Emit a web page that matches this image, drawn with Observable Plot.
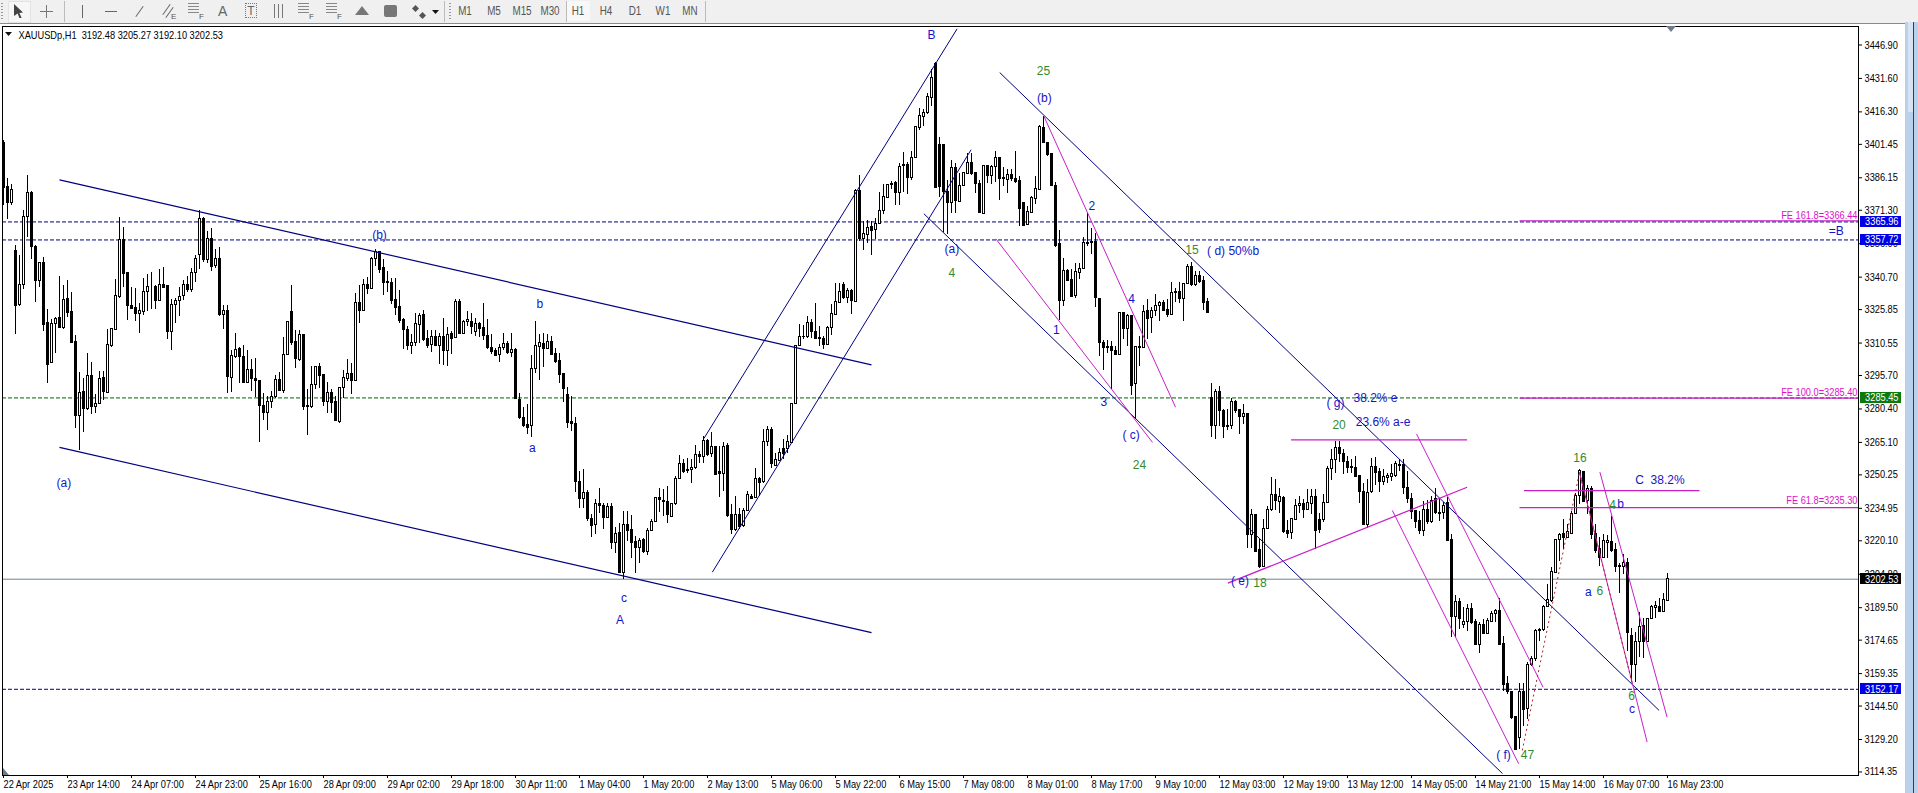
<!DOCTYPE html>
<html>
<head>
<meta charset="utf-8">
<script src="https://cdn.jsdelivr.net/npm/d3@7"></script>
<script src="https://cdn.jsdelivr.net/npm/@observablehq/plot@0.6"></script>
<style>
html,body{margin:0;padding:0;background:#fff;overflow:hidden;width:1918px;height:793px}
#toolbar{position:absolute;left:0;top:0;width:1918px;height:23px;background:#f0f0f0;border-bottom:1px solid #8a8a8a;font:11px 'Liberation Sans',sans-serif;color:#555}
#toolbar span,#toolbar i{position:absolute;display:block;font-style:normal}
#chart{position:absolute;left:0;top:24px;width:1905px;height:769px}
#side{position:absolute;left:1905px;top:22px;width:13px;height:771px;background:#b9d1ea}
#side b{position:absolute;left:8px;top:0;width:1px;height:771px;background:#3c3c3c}
#side u{position:absolute;left:3px;top:0;width:5px;height:90px;background:#d6e4f2}
.mark{position:absolute;background:#6e7b8b}
</style>
</head>
<body>
<div id="toolbar"></div>
<div id="chart"></div>
<div id="side"><u></u><b></b></div>
<div class="mark" style="left:1666px;top:26px;width:10px;height:6px;clip-path:polygon(0 0,100% 0,50% 100%)"></div>
<div class="mark" style="left:3px;top:768px;width:6px;height:7px;clip-path:polygon(0 0,100% 100%,0 100%)"></div>
<div class="mark" style="left:5px;top:32px;width:7px;height:4px;background:#111;clip-path:polygon(0 0,100% 0,50% 100%)"></div>
<script>
// ---------- hourly candles, XAUUSDp H1, bar 0 = 22 Apr 2025 22:00 ----------
const open = [
3402.2,3381.8,3374.8,3352.7,3328.0,3337.0,3368.1,3379.0,3354.4,3339.1,
3347.0,3319.6,3301.6,3319.3,3321.9,3317.6,3330.7,3324.6,3310.9,3277.4,
3288.2,3280.6,3295.4,3281.5,3282.9,3294.6,3287.9,3309.2,3316.6,3331.8,
3357.7,3342.6,3327.4,3326.5,3324.0,3324.6,3333.8,3336.1,3336.1,3330.0,
3337.0,3336.7,3315.8,3327.8,3329.7,3332.0,3337.0,3334.8,3342.5,3351.0,
3367.2,3348.6,3358.0,3346.0,3348.9,3323.5,3325.3,3294.5,3304.3,3307.8,
3304.1,3292.5,3298.2,3294.0,3293.1,3281.9,3278.4,3283.4,3285.7,3293.6,
3288.7,3305.0,3324.8,3311.0,3302.9,3314.3,3281.9,3281.1,3291.3,3299.5,
3295.9,3283.4,3287.6,3283.4,3274.4,3289.9,3294.2,3296.3,3293.4,3328.8,
3325.3,3337.0,3335.4,3349.2,3352.3,3344.8,3338.6,3337.9,3330.3,3327.0,
3321.2,3316.3,3309.4,3310.5,3319.0,3323.5,3312.3,3309.6,3313.3,3309.4,
3313.3,3306.7,3314.6,3312.8,3329.3,3314.6,3320.1,3320.4,3315.4,3319.3,
3317.4,3313.7,3308.2,3306.9,3304.9,3308.1,3310.1,3305.8,3307.5,3284.4,
3276.2,3273.0,3272.4,3298.9,3308.8,3310.2,3307.9,3311.1,3305.6,3302.3,
3296.5,3286.6,3274.4,3273.5,3246.9,3239.2,3241.9,3230.2,3227.1,3236.9,
3236.1,3230.5,3235.7,3219.0,3223.6,3205.3,3227.3,3225.1,3219.5,3216.8,
3220.6,3214.9,3224.5,3228.6,3239.6,3238.2,3237.8,3231.2,3236.7,3248.3,
3255.3,3252.4,3252.3,3253.3,3259.4,3258.2,3265.8,3259.6,3263.1,3251.4,
3250.7,3263.5,3232.0,3225.1,3232.0,3226.7,3233.8,3240.1,3239.6,3248.5,
3246.9,3265.2,3270.9,3254.4,3256.8,3262.2,3262.2,3264.8,3282.7,3309.0,
3313.1,3313.2,3319.6,3315.7,3312.8,3312.3,3309.7,3317.3,3323.4,3328.8,
3336.9,3331.1,3334.4,3329.5,3380.0,3358.2,3360.0,3363.5,3362.2,3365.0,
3371.1,3377.1,3383.3,3383.6,3379.4,3391.9,3391.9,3386.1,3395.1,3409.1,
3414.1,3415.6,3422.8,3438.2,3401.2,3401.2,3379.8,3374.8,3390.5,3375.3,
3382.4,3387.9,3392.8,3388.2,3383.2,3369.8,3391.4,3387.1,3391.0,3395.1,
3385.9,3385.2,3387.5,3385.5,3384.7,3374.5,3364.7,3369.9,3376.6,3380.6,
3409.1,3401.9,3397.0,3382.4,3355.9,3330.0,3343.6,3339.4,3332.1,3342.8,
3344.6,3356.5,3356.8,3356.7,3330.8,3310.5,3308.8,3308.8,3307.0,3304.9,
3324.2,3316.9,3322.7,3291.6,3308.8,3308.5,3325.0,3321.8,3325.4,3327.3,
3328.8,3325.7,3323.6,3334.0,3333.8,3330.9,3337.5,3345.4,3336.9,3341.3,
3338.8,3329.2,3285.3,3272.8,3288.1,3279.6,3272.7,3272.4,3283.7,3279.7,
3276.5,3278.2,3222.8,3232.0,3215.8,3208.0,3225.4,3234.0,3241.0,3237.9,
3239.8,3224.4,3223.6,3229.7,3236.1,3237.0,3234.3,3237.0,3240.2,3229.4,
3229.4,3237.2,3252.9,3257.0,3262.5,3259.7,3256.2,3253.8,3253.2,3249.8,
3242.5,3227.4,3242.6,3253.8,3251.5,3247.2,3248.9,3249.5,3249.8,3254.8,
3254.8,3244.3,3239.4,3233.5,3229.1,3224.4,3234.3,3228.9,3239.1,3232.9,
3232.8,3237.4,3220.5,3185.1,3192.1,3181.8,3183.0,3189.1,3182.8,3172.3,
3181.5,3177.6,3183.1,3186.6,3188.2,3173.1,3154.6,3151.1,3139.7,3129.8,
3150.8,3143.2,3163.5,3165.8,3178.9,3179.5,3189.7,3192.7,3205.4,3220.3,
3223.4,3221.5,3223.4,3232.4,3240.4,3251.7,3238.1,3243.8,3223.4,3216.4,
3212.2,3219.1,3219.4,3215.7,3208.7,3208.1,3210.0,3176.7,3163.5,3173.7,
3181.0,3173.8,3184.2,3189.5,3189.8,3187.7,3192.48];
const high = [
3403.0,3385.9,3383.3,3355.0,3350.4,3371.4,3387.0,3380.1,3355.0,3347.6,
3349.9,3326.0,3321.1,3322.4,3340.8,3336.7,3339.3,3333.5,3314.1,3296.9,
3294.5,3305.9,3301.8,3287.1,3297.7,3297.7,3316.6,3316.9,3339.4,3368.1,
3363.5,3342.9,3336.1,3335.6,3328.8,3340.2,3341.7,3342.9,3337.0,3344.4,
3344.9,3336.7,3330.7,3331.0,3335.8,3339.0,3340.8,3344.8,3350.4,3371.4,
3368.1,3361.7,3363.0,3353.4,3354.4,3327.6,3327.6,3307.0,3314.8,3308.7,
3309.3,3307.0,3302.9,3303.3,3293.1,3287.6,3286.1,3288.3,3295.7,3297.3,
3313.1,3320.1,3337.0,3316.3,3316.1,3314.6,3289.2,3299.8,3299.8,3301.4,
3295.9,3292.7,3289.2,3286.1,3289.9,3298.0,3302.9,3301.4,3333.4,3337.0,
3339.5,3340.7,3349.8,3353.2,3352.4,3348.9,3343.1,3340.2,3340.2,3334.6,
3321.9,3318.1,3314.3,3323.9,3324.2,3325.4,3316.3,3316.3,3316.3,3315.1,
3321.8,3317.8,3315.8,3330.3,3330.3,3320.7,3325.0,3324.2,3321.9,3320.0,
3328.5,3321.2,3314.3,3308.2,3309.9,3314.8,3311.3,3315.1,3308.1,3287.6,
3281.3,3282.6,3304.7,3320.3,3314.3,3315.1,3314.3,3313.5,3308.2,3305.9,
3296.5,3290.4,3286.1,3276.7,3251.7,3252.6,3243.1,3232.0,3238.9,3243.9,
3237.0,3237.0,3237.0,3226.1,3228.2,3233.7,3233.7,3231.8,3222.1,3221.3,
3221.3,3225.9,3229.7,3239.9,3243.9,3243.4,3245.0,3236.9,3249.5,3259.1,
3257.2,3257.9,3257.5,3263.9,3261.0,3267.8,3266.6,3269.8,3263.2,3263.2,
3265.1,3264.5,3236.6,3240.4,3235.0,3235.0,3242.7,3241.2,3253.0,3249.1,
3270.9,3272.4,3271.9,3259.9,3262.5,3266.6,3268.1,3282.7,3309.0,3318.9,
3318.4,3322.7,3321.5,3328.8,3318.1,3313.5,3318.1,3328.0,3337.9,3337.9,
3338.4,3335.5,3335.2,3380.9,3387.1,3366.1,3366.4,3366.1,3367.6,3379.5,
3382.9,3383.2,3384.4,3384.4,3392.8,3397.8,3393.2,3398.1,3409.2,3417.9,
3417.5,3424.8,3435.5,3439.1,3404.7,3401.2,3384.9,3394.0,3392.8,3388.2,
3388.5,3397.4,3397.4,3388.8,3384.7,3391.7,3392.0,3392.0,3398.4,3395.5,
3391.0,3390.0,3390.0,3398.1,3386.7,3374.5,3373.0,3377.5,3386.7,3409.9,
3414.4,3401.9,3397.4,3383.9,3362.0,3349.3,3344.3,3344.0,3347.1,3347.1,
3358.9,3369.9,3363.1,3360.8,3330.8,3311.7,3311.7,3311.3,3309.0,3324.2,
3324.2,3323.4,3323.0,3309.0,3313.5,3327.6,3330.3,3327.0,3332.6,3329.5,
3329.8,3330.3,3338.4,3335.6,3338.4,3337.6,3346.3,3347.5,3343.3,3343.1,
3341.0,3331.1,3292.2,3289.2,3290.7,3280.3,3280.0,3285.3,3284.3,3280.3,
3282.3,3278.5,3234.3,3232.0,3220.6,3229.7,3235.8,3249.2,3248.0,3244.2,
3240.4,3229.4,3230.5,3239.1,3240.4,3239.1,3243.4,3243.7,3243.7,3232.7,
3241.1,3254.1,3261.7,3265.5,3265.5,3261.7,3258.6,3257.1,3258.6,3249.8,
3246.5,3248.0,3257.7,3258.2,3253.3,3252.6,3251.0,3254.8,3256.4,3257.1,
3257.1,3251.9,3241.9,3234.0,3233.5,3238.1,3238.5,3240.4,3244.2,3238.8,
3237.4,3240.1,3222.9,3195.0,3193.9,3189.4,3190.9,3191.4,3184.0,3182.5,
3184.0,3184.4,3187.9,3188.6,3193.5,3176.4,3158.1,3151.1,3139.9,3154.8,
3154.8,3164.2,3167.3,3179.5,3180.2,3190.6,3200.0,3207.7,3220.6,3223.4,
3229.8,3227.5,3233.6,3241.9,3252.6,3251.7,3245.3,3245.0,3227.5,3221.4,
3222.9,3222.6,3231.3,3218.8,3209.7,3213.8,3211.8,3179.9,3178.0,3187.1,
3184.4,3184.5,3190.6,3192.4,3193.9,3196.2,3205.27];
const low = [
3373.3,3366.9,3373.3,3314.4,3327.2,3335.2,3358.8,3348.6,3329.1,3335.9,
3315.8,3292.0,3301.6,3305.6,3317.2,3316.6,3322.2,3310.8,3271.5,3261.2,
3269.6,3279.7,3278.0,3278.2,3282.3,3284.3,3287.6,3308.6,3316.3,3331.0,
3335.9,3320.7,3325.7,3320.4,3314.7,3323.1,3324.8,3325.7,3325.7,3330.0,
3335.9,3312.4,3307.1,3319.6,3322.7,3329.8,3333.6,3333.6,3338.2,3344.0,
3347.3,3347.0,3343.2,3344.6,3322.7,3316.9,3287.6,3288.0,3303.5,3291.9,
3292.2,3292.2,3288.3,3285.7,3265.1,3275.2,3270.6,3280.8,3285.4,3288.3,
3287.6,3304.7,3309.3,3298.8,3302.1,3279.7,3268.3,3280.5,3289.2,3289.9,
3281.6,3278.2,3278.5,3274.7,3273.6,3285.4,3293.1,3286.9,3293.4,3319.3,
3325.0,3332.6,3334.9,3345.6,3342.2,3332.2,3333.7,3328.2,3323.0,3319.7,
3307.5,3307.2,3305.3,3309.0,3310.2,3311.3,3308.2,3306.2,3309.0,3300.6,
3300.3,3299.8,3305.5,3312.6,3314.3,3314.3,3318.1,3314.3,3313.6,3313.3,
3311.6,3307.8,3305.2,3304.4,3301.7,3307.2,3305.5,3304.0,3284.6,3275.5,
3272.1,3268.6,3267.5,3296.5,3293.3,3299.4,3307.4,3305.2,3301.3,3292.2,
3283.4,3271.6,3270.1,3242.2,3235.0,3235.0,3229.0,3221.6,3223.2,3232.8,
3225.1,3230.2,3216.3,3214.2,3205.0,3202.6,3219.8,3212.2,3205.3,3209.9,
3214.2,3213.4,3224.4,3228.5,3233.1,3231.2,3227.9,3231.2,3236.4,3248.0,
3250.7,3251.0,3246.2,3252.9,3255.6,3255.6,3258.7,3258.4,3250.3,3240.1,
3242.7,3230.9,3223.2,3224.4,3225.1,3226.4,3233.5,3238.9,3239.3,3240.4,
3246.5,3263.2,3253.0,3254.1,3256.8,3257.4,3260.2,3264.5,3282.3,3309.0,
3312.0,3312.8,3312.8,3312.3,3309.0,3307.4,3309.7,3313.8,3323.0,3328.5,
3330.3,3328.8,3323.7,3329.5,3357.0,3352.9,3356.2,3350.6,3357.7,3364.6,
3369.2,3376.8,3380.6,3373.7,3373.4,3379.4,3378.6,3384.9,3394.8,3408.0,
3409.5,3415.2,3418.7,3381.4,3377.2,3361.2,3360.3,3369.9,3369.9,3374.8,
3382.1,3387.9,3387.0,3378.8,3369.9,3369.5,3383.6,3383.3,3383.9,3375.7,
3382.1,3379.1,3384.4,3383.6,3363.8,3364.1,3364.6,3369.6,3373.9,3380.3,
3401.9,3395.8,3382.1,3354.4,3320.8,3327.3,3338.7,3331.5,3331.1,3339.4,
3344.3,3354.7,3350.9,3326.9,3304.4,3298.0,3305.9,3289.2,3304.7,3304.7,
3312.0,3309.0,3286.7,3276.2,3299.8,3308.4,3312.0,3315.1,3322.7,3320.4,
3325.1,3322.1,3323.4,3329.1,3328.8,3320.2,3337.2,3336.6,3336.4,3337.9,
3325.4,3323.9,3267.5,3266.3,3272.4,3267.1,3270.6,3270.9,3278.5,3268.6,
3273.2,3216.7,3216.7,3214.8,3207.6,3207.7,3225.1,3233.7,3234.0,3232.7,
3223.6,3221.3,3220.9,3229.4,3232.7,3230.1,3234.0,3232.0,3216.0,3223.6,
3228.6,3237.0,3247.7,3251.0,3255.9,3250.3,3250.7,3250.7,3249.2,3237.3,
3227.4,3225.9,3241.6,3245.2,3242.2,3245.2,3246.5,3247.2,3249.2,3251.8,
3241.1,3237.0,3229.7,3225.9,3222.8,3222.1,3227.4,3228.2,3232.0,3228.9,
3229.8,3220.2,3175.7,3175.7,3179.5,3179.9,3178.7,3181.8,3172.2,3168.5,
3177.2,3177.3,3183.1,3182.5,3172.2,3151.0,3149.8,3138.3,3124.6,3124.6,
3135.3,3138.3,3162.7,3165.0,3174.1,3178.7,3189.4,3191.7,3205.1,3210.7,
3216.1,3221.4,3223.1,3232.1,3236.6,3237.4,3232.1,3220.6,3214.5,3208.4,
3211.9,3212.2,3214.8,3205.4,3195.9,3204.6,3169.6,3155.1,3155.4,3166.5,
3166.2,3173.7,3184.0,3184.5,3187.4,3187.4,3192.10];
const close = [
3381.3,3374.8,3380.4,3327.7,3337.0,3368.1,3379.0,3354.4,3339.1,3347.0,
3319.0,3300.7,3319.1,3321.7,3317.6,3330.1,3324.5,3310.8,3277.4,3287.6,
3280.4,3295.4,3281.5,3282.9,3294.0,3288.2,3309.6,3316.9,3332.0,3357.7,
3342.2,3327.7,3326.2,3324.0,3325.4,3333.8,3336.1,3336.1,3330.0,3337.0,
3335.9,3315.8,3327.8,3329.7,3331.8,3337.0,3334.8,3342.5,3348.9,3367.2,
3348.6,3358.0,3345.5,3348.9,3323.4,3325.3,3294.8,3304.7,3307.3,3304.0,
3292.5,3298.2,3293.9,3293.0,3281.6,3278.4,3283.5,3285.8,3293.6,3288.7,
3305.2,3320.1,3310.8,3303.2,3314.2,3281.2,3281.1,3291.3,3299.4,3295.3,
3283.4,3287.6,3283.1,3274.7,3289.9,3294.5,3296.3,3293.4,3328.8,3325.4,
3336.9,3335.4,3348.9,3352.3,3344.0,3338.2,3337.9,3330.0,3326.8,3320.7,
3316.3,3309.0,3310.5,3319.2,3323.0,3312.0,3309.3,3313.3,3309.4,3313.3,
3307.0,3314.3,3312.6,3329.3,3314.5,3320.3,3321.0,3317.7,3319.2,3317.2,
3313.6,3308.1,3306.6,3304.7,3308.4,3309.9,3306.2,3307.3,3284.9,3276.1,
3272.7,3271.9,3298.9,3309.0,3310.5,3308.0,3310.9,3305.3,3302.0,3295.9,
3289.5,3274.2,3273.5,3246.8,3239.2,3241.9,3230.0,3226.7,3236.9,3235.8,
3230.5,3235.5,3218.9,3223.3,3205.3,3227.3,3224.8,3219.3,3216.8,3219.8,
3214.9,3224.7,3228.6,3239.6,3238.7,3237.8,3231.7,3236.9,3248.3,3255.2,
3251.7,3251.8,3253.3,3259.4,3258.2,3265.8,3259.3,3262.9,3250.4,3250.6,
3263.1,3231.5,3225.1,3232.0,3226.2,3233.8,3241.2,3239.2,3248.5,3246.6,
3265.1,3270.9,3255.0,3257.1,3260.2,3259.9,3265.2,3282.7,3309.0,3313.5,
3313.5,3319.9,3315.8,3312.3,3312.2,3309.7,3317.6,3323.7,3329.2,3334.0,
3331.1,3334.4,3329.7,3380.0,3358.2,3360.3,3363.4,3362.0,3365.0,3371.1,
3377.4,3383.0,3382.9,3379.4,3391.0,3391.4,3386.1,3395.1,3409.2,3414.3,
3415.6,3423.1,3431.6,3381.7,3381.8,3379.8,3374.8,3390.5,3375.7,3382.4,
3388.2,3392.8,3387.9,3383.2,3369.9,3391.4,3387.1,3391.0,3395.1,3385.8,
3385.5,3387.3,3385.5,3384.4,3371.8,3364.3,3370.4,3376.8,3380.9,3409.2,
3402.2,3396.7,3382.4,3355.0,3330.0,3343.3,3339.1,3331.8,3342.9,3344.6,
3356.2,3355.9,3356.2,3331.1,3310.5,3308.5,3308.5,3306.7,3305.2,3324.2,
3316.9,3322.7,3291.1,3308.8,3308.4,3324.7,3321.5,3325.4,3327.6,3328.8,
3325.4,3323.4,3333.4,3333.4,3330.9,3337.6,3345.4,3336.9,3341.3,3338.7,
3329.1,3324.5,3272.8,3288.1,3279.3,3272.1,3272.1,3283.8,3279.3,3276.5,
3278.2,3222.8,3231.8,3214.8,3208.0,3225.4,3234.1,3241.0,3238.1,3240.1,
3224.2,3223.3,3230.2,3235.9,3237.0,3234.3,3237.2,3240.2,3224.7,3225.1,
3237.2,3253.0,3257.0,3262.5,3259.7,3256.1,3253.6,3253.2,3249.5,3242.2,
3227.4,3241.9,3253.8,3251.3,3247.2,3249.2,3249.7,3250.6,3255.1,3254.4,
3244.2,3239.4,3233.2,3228.9,3224.4,3234.0,3228.9,3238.4,3232.7,3232.4,
3235.9,3220.2,3185.1,3192.1,3184.4,3183.0,3189.1,3182.5,3172.3,3181.5,
3177.6,3183.3,3186.6,3188.2,3172.6,3154.3,3150.8,3138.9,3124.6,3150.8,
3142.9,3163.5,3166.1,3179.0,3179.5,3189.7,3193.2,3205.8,3220.6,3222.9,
3221.5,3224.0,3232.4,3240.7,3252.2,3237.7,3243.8,3222.9,3215.3,3212.2,
3220.2,3220.2,3215.3,3208.1,3208.1,3210.0,3178.0,3163.5,3173.8,3180.7,
3173.8,3184.5,3190.0,3190.1,3187.7,3193.0,3202.53];

// ---------- axes ----------
const timeLabels = ["22 Apr 2025","23 Apr 14:00","24 Apr 07:00","24 Apr 23:00","25 Apr 16:00","28 Apr 09:00","29 Apr 02:00","29 Apr 18:00","30 Apr 11:00","1 May 04:00","1 May 20:00","2 May 13:00","5 May 06:00","5 May 22:00","6 May 15:00","7 May 08:00","8 May 01:00","8 May 17:00","9 May 10:00","12 May 03:00","12 May 19:00","13 May 12:00","14 May 05:00","14 May 21:00","15 May 14:00","16 May 07:00","16 May 23:00"];
const timeTickBars = timeLabels.map((_, k) => k * 16);
const priceTicks = [3446.90,3431.60,3416.30,3401.45,3386.15,3371.30,3356.00,3340.70,3325.85,3310.55,3295.70,3280.40,3265.10,3250.25,3234.95,3220.10,3204.80,3189.50,3174.65,3159.35,3144.50,3129.20,3114.35];

// ---------- horizontal levels ----------
const navyLevels = [3365.96,3357.72,3152.17];
const greenLevels = [3285.45];
const currentPrice = [3202.53];
const fibLevels = [3366.44,3285.40,3235.30];
const fibLabels = ["FE 161.8=3366.44","FE 100.0=3285.40","FE 61.8=3235.30"];
const fibLabelPrices = [3369.0,3288.1,3238.4];
const fibStartBar = 379;
const lastFrameBar = 463.75;
const tagPrices = [3365.96,3357.72,3285.45,3202.53,3152.17];
const tagKinds = ["navy","navy","green","black","navy"];

// ---------- drawn trend lines: [bar, price, bar, price] ----------
const thickNavyLines = [[14,3385.2,217,3300.6],[14,3262.8,217,3178.1]];
const thinNavyLines = [[177.2,3205.7,241.9,3399.0],[175.1,3266.9,238.4,3454.3],[249.05,3434.3,413.9,3142.5],[230.1,3369.7,374.75,3113.6]];
const magentaLines = [[248.1,3358.2,287.25,3265.1],[260.1,3414.3,293,3281.2],[347.2,3234.0,378.8,3118.1],[353.25,3269.0,384.9,3153.1],[399.1,3251.5,415.9,3139.4],[394,3251.3,410.9,3128.0]];
const thickMagentaLines = [[321.9,3266.3,365.9,3266.3],[306.1,3200.7,365.9,3244.6],[380.1,3243.0,424,3243.0]];
const redDottedLines = [[379.7,3124.2,394,3251.5],[394,3251.5,407.2,3154.7]];

// ---------- wave labels: [text, bar, price] ----------
const blueLabels = [["(b)",94,3359.8],["b",134.1,3328.2],["(a)",15.1,3246.3],["a",132.2,3262.3],["c",155.1,3193.7],["A",154.1,3183.8],["B",232,3451.6],["(b)",260.2,3422.4],["(a)",237.1,3353.3],["2",272.1,3373.2],["1",263.2,3316.3],["4",282,3330.5],["( d) 50%b",307.4,3352.8],["3",275.1,3283.5],["( c)",281.9,3268.3],["( g)",333,3283.0],["38.2% e",343,3285.5],["23.6% a-e",344.9,3274.3],["( e)",309.1,3201.6],["C  38.2%",414.1,3247.8],["b",404.3,3236.7],["a",396.2,3196.6],["c",407.1,3143.2],["( f)",375,3122.2],["=B",458.2,3361.7]];
const greenLabels = [["25",260,3434.9],["4",237.1,3342.5],["15",297.1,3353.2],["24",284,3254.6],["20",333.9,3273.2],["18",314.1,3200.7],["16",394.1,3258.1],["4",402.3,3236.6],["6",399.1,3197.0],["6",407,3149.0],["47",381,3122.2]];

const headerText = "XAUUSDp,H1  3192.48 3205.27 3192.10 3202.53";

// ---------- chart ----------
const bars = open.map((o, i) => ({i, o, h: high[i], l: low[i], c: close[i]}));
const up = bars.filter(d => d.c >= d.o);
const down = bars.filter(d => d.c < d.o);
const sans = "'Liberation Sans',sans-serif";
const linkMark = (rows, opts) => Plot.link(rows, {x1: d => d[0], y1: d => d[1], x2: d => d[2], y2: d => d[3], ...opts});
const textMark = (rows, fill) => Plot.text(rows, {text: d => d[0], x: d => d[1], y: d => d[2], fill, fontSize: 12, fontFamily: sans});
const tagColor = {navy: "#0000e6", green: "#0b7a0b", black: "#000000"};

const chart = Plot.plot({
  width: 1905, height: 769,
  marginTop: 2, marginRight: 47, marginBottom: 18, marginLeft: 2,
  style: {background: "#fff", fontFamily: sans, fontSize: "11px", color: "#000", overflow: "visible"},
  x: {domain: [-0.25, 463.75], range: [2, 1858], axis: null},
  y: {domain: [3112.73, 3455.36], range: [751, 2], axis: null},
  marks: [
    Plot.ruleY(currentPrice, {y: d => d, stroke: "#708090", strokeWidth: 1}),
    Plot.ruleY(navyLevels, {y: d => d, stroke: "#000080", strokeWidth: 1, strokeDasharray: "4,2"}),
    Plot.ruleY(greenLevels, {y: d => d, stroke: "#006400", strokeWidth: 1, strokeDasharray: "4,2"}),

    // candles
    Plot.ruleX(bars, {x: "i", y1: "l", y2: "h", stroke: "#000", strokeWidth: 1, shapeRendering: "crispEdges"}),
    Plot.rect(up, {x1: d => d.i - 0.25, x2: d => d.i + 0.25, y1: "o", y2: "c", fill: "#fff", stroke: "#000", strokeWidth: 1, shapeRendering: "crispEdges", dx: 0.5}),
    Plot.rect(down, {x1: d => d.i - 0.25, x2: d => d.i + 0.25, y1: "o", y2: "c", fill: "#000", stroke: "#000", strokeWidth: 1, shapeRendering: "crispEdges", dx: 0.5}),

    // trend lines
    linkMark(thickNavyLines, {stroke: "#000080", strokeWidth: 1.2}),
    linkMark(thinNavyLines, {stroke: "#000080", strokeWidth: 1}),
    linkMark(magentaLines, {stroke: "#c71fc7", strokeWidth: 1}),
    linkMark(thickMagentaLines, {stroke: "#c71fc7", strokeWidth: 1.25}),
    Plot.link(fibLevels, {x1: fibStartBar, x2: lastFrameBar, y1: d => d, y2: d => d, stroke: "#c71fc7", strokeWidth: 1.2}),
    linkMark(redDottedLines, {stroke: "#b22222", strokeWidth: 1, strokeDasharray: "2,3"}),

    // labels
    textMark(blueLabels, "#1414c8"),
    textMark(greenLabels, "#2f8b2f"),
    Plot.text(fibLabels, {text: d => d, x: 463.5, y: (d, k) => fibLabelPrices[k], textAnchor: "end", fill: "#e010c8", fontSize: 11, fontFamily: sans}),
    Plot.text([headerText], {text: d => d, frameAnchor: "top-left", dx: 16, dy: 5, fill: "#000", fontSize: 11, fontFamily: sans, lineAnchor: "top"}),

    // axes
    Plot.axisX({anchor: "bottom", ticks: timeTickBars, tickFormat: i => timeLabels[i / 16], tickSize: 3, tickPadding: 2, textAnchor: "start", fontSize: 11, lineAnchor: "top", label: null}),
    Plot.axisY({anchor: "right", ticks: priceTicks, tickFormat: d => d.toFixed(2), tickSize: 3, tickPadding: 3, fontSize: 11, label: null}),
    Plot.frame({stroke: "#000", strokeWidth: 1}),

    // price tags on the axis
    Plot.rect(tagPrices, {x1: 464.3, x2: 474.5, y1: d => d - 2.55, y2: d => d + 2.55, fill: (d, k) => tagColor[tagKinds[k]], shapeRendering: "crispEdges"}),
    Plot.text(tagPrices, {text: d => d.toFixed(2), x: 465.4, y: d => d, textAnchor: "start", fill: "#fff", fontSize: 11, fontFamily: sans})
  ]
});
document.getElementById("chart").appendChild(chart);

// The terminal's small type is tall and narrow: condense the 11px labels to that width.
chart.querySelectorAll("text").forEach(t => {
  const g = t.closest("g[font-size]");
  if (g && g.getAttribute("font-size") === "11") {
    t.setAttribute("textLength", (t.getComputedTextLength() * 0.84).toFixed(1));
    t.setAttribute("lengthAdjust", "spacingAndGlyphs");
  }
});

// ---------- terminal toolbar ----------
const tb = document.getElementById("toolbar");
const add = (tag, css, txt) => { const e = document.createElement(tag); e.style.cssText = css; if (txt) e.textContent = txt; tb.appendChild(e); };
const grip = x => add("i", `left:${x}px;top:3px;width:2px;height:17px;background:repeating-linear-gradient(#999 0 1px,transparent 1px 3px)`);
[1, 449].forEach(grip);
add("i", "left:8px;top:1px;width:21px;height:20px;background:#f7f7f7;border:1px solid #e2e2e2");
add("i", "left:14px;top:4px;width:9px;height:14px;background:#444;clip-path:polygon(0 0,100% 60%,60% 65%,85% 100%,60% 100%,40% 68%,0 85%)");
add("i", "left:40px;top:11px;width:13px;height:1px;background:#777");
add("i", "left:46px;top:5px;width:1px;height:13px;background:#777");
[64, 444, 566, 705].forEach(x => add("i", `left:${x}px;top:1px;width:1px;height:21px;background:#bbb`));
add("i", "left:82px;top:5px;width:1px;height:13px;background:#666");
add("i", "left:105px;top:11px;width:12px;height:1px;background:#666");
add("i", "left:133px;top:11px;width:13px;height:1px;background:#666;transform:rotate(-55deg)");
add("i", "left:160px;top:9px;width:13px;height:1px;background:#666;transform:rotate(-55deg)");
add("i", "left:163px;top:12px;width:13px;height:1px;background:#666;transform:rotate(-55deg)");
add("span", "left:171px;top:12px;font-size:8px", "E");
[[190,"F"],[300,"F"],[328,"F"]].forEach(([x,f]) => {
  add("i", `left:${x-2}px;top:3px;width:11px;height:12px;background:repeating-linear-gradient(#888 0 1px,transparent 1px 3px)`);
  add("span", `left:${x+9}px;top:12px;font-size:8px`, f);
});
add("span", "left:218px;top:3px;font-size:14px;color:#666", "A");
add("span", "left:245px;top:3px;width:10px;height:13px;border:1px dotted #777;text-align:center;font-size:12px;color:#666", "T");
[274,278,282].forEach(x => add("i", `left:${x}px;top:4px;width:1px;height:14px;background:#777`));
add("i", "left:355px;top:6px;width:14px;height:9px;background:#777;clip-path:polygon(50% 0,100% 100%,0 100%)");
add("i", "left:384px;top:5px;width:13px;height:12px;background:#777;border-radius:2px");
add("i", "left:412px;top:5px;width:7px;height:7px;background:#555;clip-path:polygon(50% 0,100% 50%,50% 100%,0 50%)");
add("i", "left:419px;top:12px;width:7px;height:7px;background:#555;clip-path:polygon(50% 0,100% 50%,50% 100%,0 50%)");
add("i", "left:432px;top:10px;width:7px;height:4px;background:#111;clip-path:polygon(0 0,100% 0,50% 100%)");
add("i", "left:567px;top:1px;width:23px;height:20px;background:#f8f8f8");
[["M1",465],["M5",493.5],["M15",522],["M30",550],["H1",578],["H4",606],["D1",635],["W1",663],["MN",690]].forEach(([t, x]) =>
  add("span", `left:${x - 14}px;width:28px;top:4px;text-align:center;font-size:12px;transform:scaleX(.82)`, t));
</script>
</body>
</html>
